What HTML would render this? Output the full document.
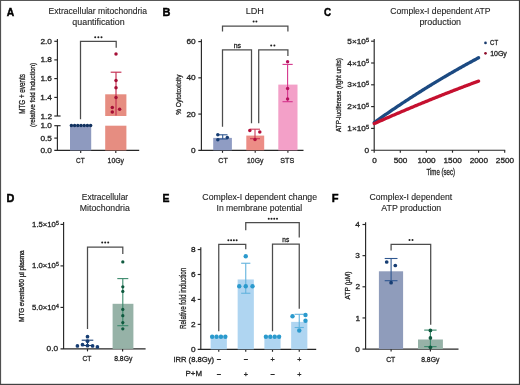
<!DOCTYPE html>
<html><head><meta charset="utf-8"><style>
html,body{margin:0;padding:0;background:#fff;overflow:hidden;}
svg{display:block;font-family:"Liberation Sans", sans-serif;will-change:transform;filter:blur(0.3px);}
text{stroke:#262626;stroke-width:0.3px;}
text.ti{stroke-width:0.12px;}
</style></head><body>
<svg width="520" height="385" viewBox="0 0 520 385">
<rect x="0" y="0" width="520" height="385" fill="#fff"/>
<text x="6.64" y="15.75" font-size="10.90" text-anchor="start" fill="#000" font-weight="bold" textLength="7.44" lengthAdjust="spacingAndGlyphs" style="stroke:#000;stroke-width:0.45px">A</text>
<text x="162.59" y="15.75" font-size="10.90" text-anchor="start" fill="#000" font-weight="bold" textLength="7.93" lengthAdjust="spacingAndGlyphs" style="stroke:#000;stroke-width:0.45px">B</text>
<text x="324.11" y="15.75" font-size="10.90" text-anchor="start" fill="#000" font-weight="bold" textLength="7.11" lengthAdjust="spacingAndGlyphs" style="stroke:#000;stroke-width:0.45px">C</text>
<text x="6.59" y="201.60" font-size="10.90" text-anchor="start" fill="#000" font-weight="bold" textLength="7.87" lengthAdjust="spacingAndGlyphs" style="stroke:#000;stroke-width:0.45px">D</text>
<text x="162.62" y="201.60" font-size="10.90" text-anchor="start" fill="#000" font-weight="bold" textLength="6.97" lengthAdjust="spacingAndGlyphs" style="stroke:#000;stroke-width:0.45px">E</text>
<text x="331.83" y="201.60" font-size="10.90" text-anchor="start" fill="#000" font-weight="bold" textLength="6.77" lengthAdjust="spacingAndGlyphs" style="stroke:#000;stroke-width:0.45px">F</text>
<text x="48.62" y="13.85" font-size="8.70" text-anchor="start" fill="#1e1e1e" font-weight="normal" textLength="98.39" lengthAdjust="spacingAndGlyphs" class="ti">Extracellular mitochondria</text>
<text x="72.35" y="24.90" font-size="8.70" text-anchor="start" fill="#1e1e1e" font-weight="normal" textLength="52.26" lengthAdjust="spacingAndGlyphs" class="ti">quantification</text>
<line x1="57.40" y1="39.00" x2="57.40" y2="116.00" stroke="#262626" stroke-width="1.15"/>
<line x1="54.30" y1="41.30" x2="57.40" y2="41.30" stroke="#262626" stroke-width="1.15"/>
<line x1="54.30" y1="59.90" x2="57.40" y2="59.90" stroke="#262626" stroke-width="1.15"/>
<line x1="54.30" y1="78.60" x2="57.40" y2="78.60" stroke="#262626" stroke-width="1.15"/>
<line x1="54.30" y1="97.40" x2="57.40" y2="97.40" stroke="#262626" stroke-width="1.15"/>
<line x1="54.30" y1="116.00" x2="60.60" y2="116.00" stroke="#262626" stroke-width="1.15"/>
<line x1="57.40" y1="125.70" x2="57.40" y2="150.40" stroke="#262626" stroke-width="1.15"/>
<line x1="54.30" y1="125.70" x2="60.60" y2="125.70" stroke="#262626" stroke-width="1.15"/>
<line x1="54.30" y1="138.10" x2="57.40" y2="138.10" stroke="#262626" stroke-width="1.15"/>
<line x1="54.30" y1="150.40" x2="139.20" y2="150.40" stroke="#262626" stroke-width="1.15"/>
<text x="40.41" y="43.85" font-size="7.40" text-anchor="start" fill="#1e1e1e" font-weight="normal" textLength="11.52" lengthAdjust="spacingAndGlyphs">2.0</text>
<text x="40.41" y="62.45" font-size="7.40" text-anchor="start" fill="#1e1e1e" font-weight="normal" textLength="11.52" lengthAdjust="spacingAndGlyphs">1.8</text>
<text x="40.45" y="81.15" font-size="7.40" text-anchor="start" fill="#1e1e1e" font-weight="normal" textLength="11.52" lengthAdjust="spacingAndGlyphs">1.6</text>
<text x="40.33" y="99.95" font-size="7.40" text-anchor="start" fill="#1e1e1e" font-weight="normal" textLength="11.52" lengthAdjust="spacingAndGlyphs">1.4</text>
<text x="40.49" y="118.59" font-size="7.40" text-anchor="start" fill="#1e1e1e" font-weight="normal" textLength="11.52" lengthAdjust="spacingAndGlyphs">1.2</text>
<text x="40.41" y="128.25" font-size="7.40" text-anchor="start" fill="#1e1e1e" font-weight="normal" textLength="11.52" lengthAdjust="spacingAndGlyphs">1.0</text>
<text x="40.41" y="140.65" font-size="7.40" text-anchor="start" fill="#1e1e1e" font-weight="normal" textLength="11.52" lengthAdjust="spacingAndGlyphs">0.5</text>
<text x="40.41" y="152.95" font-size="7.40" text-anchor="start" fill="#1e1e1e" font-weight="normal" textLength="11.52" lengthAdjust="spacingAndGlyphs">0.0</text>
<line x1="80.70" y1="150.40" x2="80.70" y2="152.90" stroke="#262626" stroke-width="1.15"/>
<line x1="115.80" y1="150.40" x2="115.80" y2="152.90" stroke="#262626" stroke-width="1.15"/>
<text x="76.08" y="162.60" font-size="7.90" text-anchor="start" fill="#1e1e1e" font-weight="normal" textLength="8.57" lengthAdjust="spacingAndGlyphs">CT</text>
<text x="107.59" y="162.60" font-size="7.90" text-anchor="start" fill="#1e1e1e" font-weight="normal" textLength="16.35" lengthAdjust="spacingAndGlyphs">10Gy</text>
<text x="24.91" y="113.80" font-size="8.59" text-anchor="start" fill="#1e1e1e" font-weight="normal" textLength="39.71" lengthAdjust="spacingAndGlyphs" transform="rotate(-90 24.91 113.80)">MTG + events</text>
<text x="35.42" y="126.88" font-size="8.02" text-anchor="start" fill="#1e1e1e" font-weight="normal" textLength="64.07" lengthAdjust="spacingAndGlyphs" transform="rotate(-90 35.42 126.88)">(relative fold induction)</text>
<rect x="70.00" y="125.70" width="21.20" height="24.70" fill="#8e9abf"/>
<rect x="105.20" y="125.70" width="21.20" height="24.70" fill="#e68d81"/>
<rect x="105.20" y="94.30" width="21.20" height="21.70" fill="#e68d81"/>
<circle cx="71.40" cy="125.60" r="1.75" fill="#12325f"/>
<circle cx="74.60" cy="125.60" r="1.75" fill="#12325f"/>
<circle cx="77.80" cy="125.60" r="1.75" fill="#12325f"/>
<circle cx="81.00" cy="125.60" r="1.75" fill="#12325f"/>
<circle cx="84.20" cy="125.60" r="1.75" fill="#12325f"/>
<circle cx="87.40" cy="125.60" r="1.75" fill="#12325f"/>
<circle cx="90.60" cy="125.60" r="1.75" fill="#12325f"/>
<line x1="116.00" y1="72.20" x2="116.00" y2="115.50" stroke="#c42d50" stroke-width="1.15"/>
<line x1="110.70" y1="72.20" x2="121.40" y2="72.20" stroke="#c42d50" stroke-width="1.15"/>
<circle cx="116.00" cy="54.10" r="1.75" fill="#a50f36"/>
<circle cx="116.00" cy="80.60" r="1.75" fill="#a50f36"/>
<circle cx="116.00" cy="87.80" r="1.75" fill="#a50f36"/>
<circle cx="116.00" cy="97.50" r="1.75" fill="#a50f36"/>
<circle cx="112.30" cy="107.60" r="1.75" fill="#a50f36"/>
<circle cx="119.60" cy="109.20" r="1.75" fill="#a50f36"/>
<circle cx="112.30" cy="112.10" r="1.75" fill="#a50f36"/>
<polyline points="80.50,119.20 80.50,41.40 116.20,41.40 116.20,47.70" fill="none" stroke="#4c4c4c" stroke-width="1.25" stroke-linejoin="miter" stroke-linecap="butt"/>
<circle cx="95.20" cy="37.25" r="1.0" fill="#1e1e1e"/>
<circle cx="98.35" cy="37.25" r="1.0" fill="#1e1e1e"/>
<circle cx="101.50" cy="37.25" r="1.0" fill="#1e1e1e"/>
<text x="245.77" y="13.85" font-size="8.70" text-anchor="start" fill="#1e1e1e" font-weight="normal" textLength="18.16" lengthAdjust="spacingAndGlyphs" class="ti">LDH</text>
<line x1="201.40" y1="39.30" x2="201.40" y2="150.30" stroke="#262626" stroke-width="1.15"/>
<line x1="198.30" y1="41.60" x2="201.40" y2="41.60" stroke="#262626" stroke-width="1.15"/>
<line x1="198.30" y1="77.83" x2="201.40" y2="77.83" stroke="#262626" stroke-width="1.15"/>
<line x1="198.30" y1="114.07" x2="201.40" y2="114.07" stroke="#262626" stroke-width="1.15"/>
<line x1="198.30" y1="150.30" x2="303.50" y2="150.30" stroke="#262626" stroke-width="1.15"/>
<text x="186.43" y="44.15" font-size="7.40" text-anchor="start" fill="#1e1e1e" font-weight="normal" textLength="9.22" lengthAdjust="spacingAndGlyphs">60</text>
<text x="186.43" y="80.39" font-size="7.40" text-anchor="start" fill="#1e1e1e" font-weight="normal" textLength="9.22" lengthAdjust="spacingAndGlyphs">40</text>
<text x="186.43" y="116.62" font-size="7.40" text-anchor="start" fill="#1e1e1e" font-weight="normal" textLength="9.22" lengthAdjust="spacingAndGlyphs">20</text>
<text x="191.03" y="152.85" font-size="7.40" text-anchor="start" fill="#1e1e1e" font-weight="normal" textLength="4.61" lengthAdjust="spacingAndGlyphs">0</text>
<line x1="222.50" y1="150.30" x2="222.50" y2="152.80" stroke="#262626" stroke-width="1.15"/>
<line x1="255.20" y1="150.30" x2="255.20" y2="152.80" stroke="#262626" stroke-width="1.15"/>
<line x1="287.90" y1="150.30" x2="287.90" y2="152.80" stroke="#262626" stroke-width="1.15"/>
<text x="218.35" y="162.80" font-size="7.90" text-anchor="start" fill="#1e1e1e" font-weight="normal" textLength="9.42" lengthAdjust="spacingAndGlyphs">CT</text>
<text x="247.09" y="162.80" font-size="7.90" text-anchor="start" fill="#1e1e1e" font-weight="normal" textLength="16.24" lengthAdjust="spacingAndGlyphs">10Gy</text>
<text x="280.28" y="162.80" font-size="7.90" text-anchor="start" fill="#1e1e1e" font-weight="normal" textLength="13.94" lengthAdjust="spacingAndGlyphs">STS</text>
<text x="180.58" y="114.72" font-size="7.70" text-anchor="start" fill="#1e1e1e" font-weight="normal" textLength="40.05" lengthAdjust="spacingAndGlyphs" transform="rotate(-90 180.58 114.72)">% Cytotoxicity</text>
<rect x="213.20" y="137.90" width="18.70" height="12.40" fill="#8f9cc3"/>
<rect x="246.30" y="135.60" width="17.90" height="14.70" fill="#ec8d86"/>
<rect x="278.30" y="84.60" width="19.20" height="65.70" fill="#f3a0c8"/>
<line x1="222.70" y1="134.80" x2="222.70" y2="139.00" stroke="#2f5790" stroke-width="1.1"/>
<line x1="217.90" y1="134.80" x2="227.50" y2="134.80" stroke="#2f5790" stroke-width="1.1"/>
<line x1="217.90" y1="139.00" x2="227.50" y2="139.00" stroke="#2f5790" stroke-width="1.1"/>
<circle cx="217.80" cy="134.80" r="1.75" fill="#163d73"/>
<circle cx="227.30" cy="137.50" r="1.75" fill="#163d73"/>
<circle cx="217.80" cy="139.80" r="1.75" fill="#163d73"/>
<line x1="255.00" y1="129.20" x2="255.00" y2="138.70" stroke="#cc3858" stroke-width="1.1"/>
<line x1="250.00" y1="129.20" x2="260.00" y2="129.20" stroke="#cc3858" stroke-width="1.1"/>
<line x1="250.00" y1="138.70" x2="260.00" y2="138.70" stroke="#cc3858" stroke-width="1.1"/>
<circle cx="249.80" cy="130.60" r="1.75" fill="#b3103c"/>
<circle cx="259.80" cy="132.10" r="1.75" fill="#b3103c"/>
<circle cx="255.00" cy="139.60" r="1.75" fill="#b3103c"/>
<line x1="287.60" y1="64.40" x2="287.60" y2="101.70" stroke="#d4358c" stroke-width="1.1"/>
<line x1="282.50" y1="64.40" x2="292.70" y2="64.40" stroke="#d4358c" stroke-width="1.1"/>
<line x1="282.50" y1="101.70" x2="292.70" y2="101.70" stroke="#d4358c" stroke-width="1.1"/>
<circle cx="287.60" cy="61.80" r="1.7" fill="#b8105e"/>
<circle cx="287.60" cy="88.50" r="1.7" fill="#b8105e"/>
<circle cx="287.60" cy="98.90" r="1.7" fill="#b8105e"/>
<polyline points="222.50,31.50 222.50,26.00 287.90,26.00 287.90,31.50" fill="none" stroke="#4c4c4c" stroke-width="1.25" stroke-linejoin="miter" stroke-linecap="butt"/>
<circle cx="253.60" cy="21.60" r="1.0" fill="#1e1e1e"/>
<circle cx="256.40" cy="21.60" r="1.0" fill="#1e1e1e"/>
<polyline points="222.50,126.70 222.50,49.80 251.50,49.80 251.50,123.20" fill="none" stroke="#4c4c4c" stroke-width="1.25" stroke-linejoin="miter" stroke-linecap="butt"/>
<text x="233.75" y="47.60" font-size="7.00" text-anchor="start" fill="#1e1e1e" font-weight="normal" textLength="7.30" lengthAdjust="spacingAndGlyphs">ns</text>
<polyline points="258.70,123.20 258.70,49.80 287.90,49.80 287.90,56.00" fill="none" stroke="#4c4c4c" stroke-width="1.25" stroke-linejoin="miter" stroke-linecap="butt"/>
<circle cx="271.20" cy="45.50" r="1.0" fill="#1e1e1e"/>
<circle cx="274.40" cy="45.50" r="1.0" fill="#1e1e1e"/>
<text x="390.27" y="14.30" font-size="8.70" text-anchor="start" fill="#1e1e1e" font-weight="normal" textLength="100.26" lengthAdjust="spacingAndGlyphs" class="ti">Complex-I dependent ATP</text>
<text x="419.42" y="24.90" font-size="8.70" text-anchor="start" fill="#1e1e1e" font-weight="normal" textLength="41.66" lengthAdjust="spacingAndGlyphs" class="ti">production</text>
<line x1="374.20" y1="38.90" x2="374.20" y2="150.20" stroke="#262626" stroke-width="1.15"/>
<line x1="371.10" y1="128.40" x2="374.20" y2="128.40" stroke="#262626" stroke-width="1.15"/>
<line x1="371.10" y1="106.60" x2="374.20" y2="106.60" stroke="#262626" stroke-width="1.15"/>
<line x1="371.10" y1="84.80" x2="374.20" y2="84.80" stroke="#262626" stroke-width="1.15"/>
<line x1="371.10" y1="63.00" x2="374.20" y2="63.00" stroke="#262626" stroke-width="1.15"/>
<line x1="371.10" y1="41.20" x2="374.20" y2="41.20" stroke="#262626" stroke-width="1.15"/>
<line x1="371.10" y1="150.20" x2="505.20" y2="150.20" stroke="#262626" stroke-width="1.15"/>
<text x="364.53" y="152.75" font-size="7.40" text-anchor="start" fill="#1e1e1e" font-weight="normal" textLength="4.61" lengthAdjust="spacingAndGlyphs">0</text>
<text x="347.30" y="130.95" font-size="7.40" text-anchor="start" fill="#1e1e1e" font-weight="normal" textLength="18.67" lengthAdjust="spacingAndGlyphs">1×10</text>
<text x="366.12" y="128.82" font-size="5.00" text-anchor="start" fill="#1e1e1e" font-weight="normal" textLength="3.11" lengthAdjust="spacingAndGlyphs">5</text>
<text x="347.30" y="109.15" font-size="7.40" text-anchor="start" fill="#1e1e1e" font-weight="normal" textLength="18.67" lengthAdjust="spacingAndGlyphs">2×10</text>
<text x="366.12" y="107.02" font-size="5.00" text-anchor="start" fill="#1e1e1e" font-weight="normal" textLength="3.11" lengthAdjust="spacingAndGlyphs">5</text>
<text x="347.30" y="87.35" font-size="7.40" text-anchor="start" fill="#1e1e1e" font-weight="normal" textLength="18.67" lengthAdjust="spacingAndGlyphs">3×10</text>
<text x="366.12" y="85.22" font-size="5.00" text-anchor="start" fill="#1e1e1e" font-weight="normal" textLength="3.11" lengthAdjust="spacingAndGlyphs">5</text>
<text x="347.30" y="65.55" font-size="7.40" text-anchor="start" fill="#1e1e1e" font-weight="normal" textLength="18.67" lengthAdjust="spacingAndGlyphs">4×10</text>
<text x="366.12" y="63.42" font-size="5.00" text-anchor="start" fill="#1e1e1e" font-weight="normal" textLength="3.11" lengthAdjust="spacingAndGlyphs">5</text>
<text x="347.30" y="43.75" font-size="7.40" text-anchor="start" fill="#1e1e1e" font-weight="normal" textLength="18.67" lengthAdjust="spacingAndGlyphs">5×10</text>
<text x="366.12" y="41.62" font-size="5.00" text-anchor="start" fill="#1e1e1e" font-weight="normal" textLength="3.11" lengthAdjust="spacingAndGlyphs">5</text>
<line x1="374.20" y1="150.20" x2="374.20" y2="152.70" stroke="#262626" stroke-width="1.15"/>
<text x="372.23" y="163.25" font-size="7.50" text-anchor="start" fill="#1e1e1e" font-weight="normal" textLength="4.55" lengthAdjust="spacingAndGlyphs">0</text>
<line x1="400.30" y1="150.20" x2="400.30" y2="152.70" stroke="#262626" stroke-width="1.15"/>
<text x="393.79" y="163.25" font-size="7.50" text-anchor="start" fill="#1e1e1e" font-weight="normal" textLength="13.64" lengthAdjust="spacingAndGlyphs">500</text>
<line x1="426.40" y1="150.20" x2="426.40" y2="152.70" stroke="#262626" stroke-width="1.15"/>
<text x="417.46" y="163.25" font-size="7.50" text-anchor="start" fill="#1e1e1e" font-weight="normal" textLength="18.19" lengthAdjust="spacingAndGlyphs">1000</text>
<line x1="452.50" y1="150.20" x2="452.50" y2="152.70" stroke="#262626" stroke-width="1.15"/>
<text x="443.56" y="163.25" font-size="7.50" text-anchor="start" fill="#1e1e1e" font-weight="normal" textLength="18.19" lengthAdjust="spacingAndGlyphs">1500</text>
<line x1="478.60" y1="150.20" x2="478.60" y2="152.70" stroke="#262626" stroke-width="1.15"/>
<text x="469.76" y="163.25" font-size="7.50" text-anchor="start" fill="#1e1e1e" font-weight="normal" textLength="18.19" lengthAdjust="spacingAndGlyphs">2000</text>
<line x1="504.70" y1="150.20" x2="504.70" y2="152.70" stroke="#262626" stroke-width="1.15"/>
<text x="495.86" y="163.25" font-size="7.50" text-anchor="start" fill="#1e1e1e" font-weight="normal" textLength="18.19" lengthAdjust="spacingAndGlyphs">2500</text>
<text x="426.48" y="175.20" font-size="8.40" text-anchor="start" fill="#1e1e1e" font-weight="normal" textLength="28.52" lengthAdjust="spacingAndGlyphs">Time (sec)</text>
<text x="341.01" y="131.93" font-size="7.40" text-anchor="start" fill="#1e1e1e" font-weight="normal" textLength="73.93" lengthAdjust="spacingAndGlyphs" transform="rotate(-90 341.01 131.93)">ATP-luciferase (light units)</text>
<polyline points="374.20,122.51 375.24,121.77 376.29,121.04 377.33,120.30 378.38,119.57 379.42,118.83 380.46,118.10 381.51,117.37 382.55,116.65 383.60,115.92 384.64,115.20 385.68,114.48 386.73,113.76 387.77,113.04 388.82,112.33 389.86,111.61 390.90,110.90 391.95,110.19 392.99,109.48 394.04,108.78 395.08,108.07 396.12,107.37 397.17,106.67 398.21,105.97 399.26,105.27 400.30,104.58 401.34,103.88 402.39,103.19 403.43,102.50 404.48,101.82 405.52,101.13 406.56,100.45 407.61,99.76 408.65,99.08 409.70,98.41 410.74,97.73 411.78,97.06 412.83,96.38 413.87,95.71 414.92,95.04 415.96,94.38 417.00,93.71 418.05,93.05 419.09,92.39 420.14,91.73 421.18,91.07 422.22,90.41 423.27,89.76 424.31,89.11 425.36,88.46 426.40,87.81 427.44,87.16 428.49,86.52 429.53,85.87 430.58,85.23 431.62,84.59 432.66,83.96 433.71,83.32 434.75,82.69 435.80,82.06 436.84,81.43 437.88,80.80 438.93,80.17 439.97,79.55 441.02,78.93 442.06,78.31 443.10,77.69 444.15,77.07 445.19,76.46 446.24,75.84 447.28,75.23 448.32,74.62 449.37,74.02 450.41,73.41 451.46,72.81 452.50,72.21 453.54,71.61 454.59,71.01 455.63,70.41 456.68,69.82 457.72,69.22 458.76,68.63 459.81,68.05 460.85,67.46 461.90,66.87 462.94,66.29 463.98,65.71 465.03,65.13 466.07,64.55 467.12,63.98 468.16,63.40 469.20,62.83 470.25,62.26 471.29,61.69 472.34,61.13 473.38,60.56 474.42,60.00 475.47,59.44 476.51,58.88 477.56,58.32 478.60,57.77" fill="none" stroke="#1c4a82" stroke-width="3.3" stroke-linecap="round" stroke-linejoin="round"/>
<polyline points="374.20,123.60 375.24,123.14 376.29,122.68 377.33,122.21 378.38,121.75 379.42,121.29 380.46,120.83 381.51,120.37 382.55,119.91 383.60,119.45 384.64,118.99 385.68,118.54 386.73,118.08 387.77,117.62 388.82,117.17 389.86,116.72 390.90,116.26 391.95,115.81 392.99,115.36 394.04,114.91 395.08,114.46 396.12,114.01 397.17,113.56 398.21,113.12 399.26,112.67 400.30,112.22 401.34,111.78 402.39,111.34 403.43,110.89 404.48,110.45 405.52,110.01 406.56,109.57 407.61,109.13 408.65,108.69 409.70,108.25 410.74,107.81 411.78,107.38 412.83,106.94 413.87,106.51 414.92,106.07 415.96,105.64 417.00,105.20 418.05,104.77 419.09,104.34 420.14,103.91 421.18,103.48 422.22,103.05 423.27,102.63 424.31,102.20 425.36,101.77 426.40,101.35 427.44,100.92 428.49,100.50 429.53,100.07 430.58,99.65 431.62,99.23 432.66,98.81 433.71,98.39 434.75,97.97 435.80,97.55 436.84,97.14 437.88,96.72 438.93,96.30 439.97,95.89 441.02,95.47 442.06,95.06 443.10,94.65 444.15,94.24 445.19,93.82 446.24,93.41 447.28,93.00 448.32,92.60 449.37,92.19 450.41,91.78 451.46,91.37 452.50,90.97 453.54,90.56 454.59,90.16 455.63,89.76 456.68,89.36 457.72,88.95 458.76,88.55 459.81,88.15 460.85,87.75 461.90,87.36 462.94,86.96 463.98,86.56 465.03,86.17 466.07,85.77 467.12,85.38 468.16,84.98 469.20,84.59 470.25,84.20 471.29,83.81 472.34,83.42 473.38,83.03 474.42,82.64 475.47,82.25 476.51,81.87 477.56,81.48 478.60,81.09" fill="none" stroke="#c5102f" stroke-width="3.3" stroke-linecap="round" stroke-linejoin="round"/>
<circle cx="485.50" cy="42.90" r="1.35" fill="#183a6c"/>
<text x="490.10" y="44.90" font-size="6.60" text-anchor="start" fill="#1e1e1e" font-weight="normal" textLength="8.04" lengthAdjust="spacingAndGlyphs">CT</text>
<circle cx="485.50" cy="53.30" r="1.35" fill="#8e0c2a"/>
<text x="490.18" y="55.60" font-size="6.60" text-anchor="start" fill="#1e1e1e" font-weight="normal" textLength="16.66" lengthAdjust="spacingAndGlyphs">10Gy</text>
<text x="81.83" y="200.10" font-size="8.70" text-anchor="start" fill="#1e1e1e" font-weight="normal" textLength="46.32" lengthAdjust="spacingAndGlyphs" class="ti">Extracellular</text>
<text x="79.80" y="210.90" font-size="8.70" text-anchor="start" fill="#1e1e1e" font-weight="normal" textLength="50.00" lengthAdjust="spacingAndGlyphs" class="ti">Mitochondria</text>
<line x1="63.60" y1="222.10" x2="63.60" y2="348.90" stroke="#262626" stroke-width="1.15"/>
<line x1="60.50" y1="224.40" x2="63.60" y2="224.40" stroke="#262626" stroke-width="1.15"/>
<line x1="60.50" y1="265.90" x2="63.60" y2="265.90" stroke="#262626" stroke-width="1.15"/>
<line x1="60.50" y1="307.40" x2="63.60" y2="307.40" stroke="#262626" stroke-width="1.15"/>
<line x1="60.50" y1="348.90" x2="145.60" y2="348.90" stroke="#262626" stroke-width="1.15"/>
<text x="46.61" y="351.45" font-size="7.40" text-anchor="start" fill="#1e1e1e" font-weight="normal" textLength="11.52" lengthAdjust="spacingAndGlyphs">0.0</text>
<text x="32.07" y="309.95" font-size="7.40" text-anchor="start" fill="#1e1e1e" font-weight="normal" textLength="23.75" lengthAdjust="spacingAndGlyphs">5.0×10</text>
<text x="55.97" y="307.82" font-size="5.00" text-anchor="start" fill="#1e1e1e" font-weight="normal" textLength="2.89" lengthAdjust="spacingAndGlyphs">4</text>
<text x="32.12" y="268.45" font-size="7.40" text-anchor="start" fill="#1e1e1e" font-weight="normal" textLength="23.75" lengthAdjust="spacingAndGlyphs">1.0×10</text>
<text x="56.02" y="266.32" font-size="5.00" text-anchor="start" fill="#1e1e1e" font-weight="normal" textLength="2.89" lengthAdjust="spacingAndGlyphs">5</text>
<text x="32.12" y="226.95" font-size="7.40" text-anchor="start" fill="#1e1e1e" font-weight="normal" textLength="23.75" lengthAdjust="spacingAndGlyphs">1.5×10</text>
<text x="56.02" y="224.82" font-size="5.00" text-anchor="start" fill="#1e1e1e" font-weight="normal" textLength="2.89" lengthAdjust="spacingAndGlyphs">5</text>
<line x1="87.50" y1="348.90" x2="87.50" y2="351.40" stroke="#262626" stroke-width="1.15"/>
<line x1="122.60" y1="348.90" x2="122.60" y2="351.40" stroke="#262626" stroke-width="1.15"/>
<text x="82.57" y="361.40" font-size="7.90" text-anchor="start" fill="#1e1e1e" font-weight="normal" textLength="8.89" lengthAdjust="spacingAndGlyphs">CT</text>
<text x="114.19" y="361.40" font-size="7.90" text-anchor="start" fill="#1e1e1e" font-weight="normal" textLength="18.13" lengthAdjust="spacingAndGlyphs">8.8Gy</text>
<text x="23.97" y="321.80" font-size="6.31" text-anchor="start" fill="#1e1e1e" font-weight="normal" textLength="71.39" lengthAdjust="spacingAndGlyphs" transform="rotate(-90 23.97 321.80)">MTG events/60 µl plasma</text>
<rect x="112.60" y="303.80" width="20.80" height="45.10" fill="#96b2a7"/>
<line x1="122.80" y1="278.60" x2="122.80" y2="325.70" stroke="#3b8a6c" stroke-width="1.1"/>
<line x1="117.30" y1="278.60" x2="128.30" y2="278.60" stroke="#3b8a6c" stroke-width="1.1"/>
<line x1="117.30" y1="325.70" x2="128.30" y2="325.70" stroke="#3b8a6c" stroke-width="1.1"/>
<circle cx="122.80" cy="261.90" r="1.65" fill="#0f5a3f"/>
<circle cx="122.80" cy="286.80" r="1.65" fill="#0f5a3f"/>
<circle cx="122.80" cy="291.40" r="1.65" fill="#0f5a3f"/>
<circle cx="122.80" cy="309.40" r="1.65" fill="#0f5a3f"/>
<circle cx="122.80" cy="315.70" r="1.65" fill="#0f5a3f"/>
<circle cx="122.80" cy="322.60" r="1.65" fill="#0f5a3f"/>
<circle cx="122.80" cy="328.80" r="1.65" fill="#0f5a3f"/>
<line x1="87.50" y1="340.20" x2="87.50" y2="345.50" stroke="#163d73" stroke-width="1.1"/>
<line x1="81.70" y1="340.20" x2="93.30" y2="340.20" stroke="#163d73" stroke-width="1.1"/>
<line x1="81.70" y1="345.50" x2="93.30" y2="345.50" stroke="#163d73" stroke-width="1.1"/>
<circle cx="87.50" cy="336.70" r="1.85" fill="#163d73"/>
<circle cx="87.50" cy="341.20" r="1.85" fill="#163d73"/>
<circle cx="77.40" cy="345.90" r="1.85" fill="#163d73"/>
<circle cx="82.50" cy="344.70" r="1.85" fill="#163d73"/>
<circle cx="87.50" cy="345.70" r="1.85" fill="#163d73"/>
<circle cx="92.60" cy="345.90" r="1.85" fill="#163d73"/>
<circle cx="97.40" cy="346.90" r="1.85" fill="#163d73"/>
<polyline points="87.50,328.90 87.50,247.00 122.80,247.00 122.80,254.00" fill="none" stroke="#4c4c4c" stroke-width="1.25" stroke-linejoin="miter" stroke-linecap="butt"/>
<circle cx="102.20" cy="242.50" r="1.0" fill="#1e1e1e"/>
<circle cx="105.20" cy="242.50" r="1.0" fill="#1e1e1e"/>
<circle cx="108.20" cy="242.50" r="1.0" fill="#1e1e1e"/>
<text x="202.36" y="200.10" font-size="8.70" text-anchor="start" fill="#1e1e1e" font-weight="normal" textLength="114.73" lengthAdjust="spacingAndGlyphs" class="ti">Complex-I dependent change</text>
<text x="216.52" y="211.10" font-size="8.70" text-anchor="start" fill="#1e1e1e" font-weight="normal" textLength="85.74" lengthAdjust="spacingAndGlyphs" class="ti">In membrane potential</text>
<line x1="200.80" y1="247.24" x2="200.80" y2="349.30" stroke="#262626" stroke-width="1.15"/>
<line x1="197.70" y1="249.54" x2="200.80" y2="249.54" stroke="#262626" stroke-width="1.15"/>
<line x1="197.70" y1="274.48" x2="200.80" y2="274.48" stroke="#262626" stroke-width="1.15"/>
<line x1="197.70" y1="299.42" x2="200.80" y2="299.42" stroke="#262626" stroke-width="1.15"/>
<line x1="197.70" y1="324.36" x2="200.80" y2="324.36" stroke="#262626" stroke-width="1.15"/>
<line x1="197.70" y1="349.30" x2="316.20" y2="349.30" stroke="#262626" stroke-width="1.15"/>
<text x="191.03" y="252.09" font-size="7.40" text-anchor="start" fill="#1e1e1e" font-weight="normal" textLength="4.61" lengthAdjust="spacingAndGlyphs">8</text>
<text x="191.07" y="277.03" font-size="7.40" text-anchor="start" fill="#1e1e1e" font-weight="normal" textLength="4.61" lengthAdjust="spacingAndGlyphs">6</text>
<text x="190.95" y="301.97" font-size="7.40" text-anchor="start" fill="#1e1e1e" font-weight="normal" textLength="4.61" lengthAdjust="spacingAndGlyphs">4</text>
<text x="191.11" y="326.95" font-size="7.40" text-anchor="start" fill="#1e1e1e" font-weight="normal" textLength="4.61" lengthAdjust="spacingAndGlyphs">2</text>
<text x="191.03" y="351.85" font-size="7.40" text-anchor="start" fill="#1e1e1e" font-weight="normal" textLength="4.61" lengthAdjust="spacingAndGlyphs">0</text>
<line x1="218.75" y1="349.30" x2="218.75" y2="351.80" stroke="#262626" stroke-width="1.15"/>
<line x1="245.75" y1="349.30" x2="245.75" y2="351.80" stroke="#262626" stroke-width="1.15"/>
<line x1="272.50" y1="349.30" x2="272.50" y2="351.80" stroke="#262626" stroke-width="1.15"/>
<line x1="299.25" y1="349.30" x2="299.25" y2="351.80" stroke="#262626" stroke-width="1.15"/>
<text x="185.71" y="329.00" font-size="8.84" text-anchor="start" fill="#1e1e1e" font-weight="normal" textLength="61.30" lengthAdjust="spacingAndGlyphs" transform="rotate(-90 185.71 329.00)">Relative fold induction</text>
<rect x="210.65" y="336.83" width="16.20" height="12.47" fill="#afd5f1"/>
<rect x="237.65" y="279.47" width="16.20" height="69.83" fill="#afd5f1"/>
<rect x="264.40" y="336.83" width="16.20" height="12.47" fill="#afd5f1"/>
<rect x="291.15" y="321.87" width="16.20" height="27.43" fill="#afd5f1"/>
<circle cx="212.15" cy="336.80" r="2.2" fill="#2b9acd"/>
<circle cx="216.55" cy="336.80" r="2.2" fill="#2b9acd"/>
<circle cx="220.95" cy="336.80" r="2.2" fill="#2b9acd"/>
<circle cx="225.35" cy="336.80" r="2.2" fill="#2b9acd"/>
<circle cx="265.90" cy="336.80" r="2.2" fill="#2b9acd"/>
<circle cx="270.30" cy="336.80" r="2.2" fill="#2b9acd"/>
<circle cx="274.70" cy="336.80" r="2.2" fill="#2b9acd"/>
<circle cx="279.10" cy="336.80" r="2.2" fill="#2b9acd"/>
<line x1="245.75" y1="263.25" x2="245.75" y2="293.25" stroke="#62b3de" stroke-width="1.1"/>
<line x1="241.15" y1="263.25" x2="250.35" y2="263.25" stroke="#62b3de" stroke-width="1.1"/>
<line x1="241.15" y1="293.25" x2="250.35" y2="293.25" stroke="#62b3de" stroke-width="1.1"/>
<circle cx="245.75" cy="256.25" r="2.2" fill="#2b9acd"/>
<circle cx="239.25" cy="286.25" r="2.2" fill="#2b9acd"/>
<circle cx="245.75" cy="286.25" r="2.2" fill="#2b9acd"/>
<circle cx="252.50" cy="286.25" r="2.2" fill="#2b9acd"/>
<line x1="299.25" y1="314.30" x2="299.25" y2="327.50" stroke="#62b3de" stroke-width="1.1"/>
<line x1="294.65" y1="314.30" x2="303.85" y2="314.30" stroke="#62b3de" stroke-width="1.1"/>
<line x1="294.65" y1="327.50" x2="303.85" y2="327.50" stroke="#62b3de" stroke-width="1.1"/>
<circle cx="292.50" cy="316.25" r="2.2" fill="#2b9acd"/>
<circle cx="305.50" cy="315.00" r="2.2" fill="#2b9acd"/>
<circle cx="305.50" cy="320.75" r="2.2" fill="#2b9acd"/>
<circle cx="299.25" cy="330.50" r="2.2" fill="#2b9acd"/>
<polyline points="245.75,230.20 245.75,222.60 299.25,222.60 299.25,237.60" fill="none" stroke="#4c4c4c" stroke-width="1.25" stroke-linejoin="miter" stroke-linecap="butt"/>
<circle cx="268.73" cy="218.70" r="1.0" fill="#1e1e1e"/>
<circle cx="271.48" cy="218.70" r="1.0" fill="#1e1e1e"/>
<circle cx="274.23" cy="218.70" r="1.0" fill="#1e1e1e"/>
<circle cx="276.98" cy="218.70" r="1.0" fill="#1e1e1e"/>
<polyline points="218.75,331.25 218.75,244.40 245.75,244.40 245.75,249.30" fill="none" stroke="#4c4c4c" stroke-width="1.25" stroke-linejoin="miter" stroke-linecap="butt"/>
<circle cx="228.38" cy="240.30" r="1.0" fill="#1e1e1e"/>
<circle cx="231.12" cy="240.30" r="1.0" fill="#1e1e1e"/>
<circle cx="233.88" cy="240.30" r="1.0" fill="#1e1e1e"/>
<circle cx="236.62" cy="240.30" r="1.0" fill="#1e1e1e"/>
<polyline points="272.50,331.25 272.50,244.20 299.25,244.20 299.25,308.75" fill="none" stroke="#4c4c4c" stroke-width="1.25" stroke-linejoin="miter" stroke-linecap="butt"/>
<text x="282.27" y="242.00" font-size="7.00" text-anchor="start" fill="#1e1e1e" font-weight="normal" textLength="6.97" lengthAdjust="spacingAndGlyphs">ns</text>
<text x="173.42" y="361.90" font-size="7.60" text-anchor="start" fill="#1e1e1e" font-weight="normal" textLength="40.57" lengthAdjust="spacingAndGlyphs">IRR (8.8Gy)</text>
<text x="185.57" y="376.30" font-size="7.60" text-anchor="start" fill="#1e1e1e" font-weight="normal" textLength="16.50" lengthAdjust="spacingAndGlyphs">P+M</text>
<text x="218.75" y="361.32" font-size="7.20" text-anchor="middle" fill="#1e1e1e" font-weight="normal" textLength="3.70" lengthAdjust="spacingAndGlyphs">–</text>
<text x="245.75" y="361.32" font-size="7.20" text-anchor="middle" fill="#1e1e1e" font-weight="normal" textLength="3.70" lengthAdjust="spacingAndGlyphs">–</text>
<text x="272.50" y="361.91" font-size="7.20" text-anchor="middle" fill="#1e1e1e" font-weight="normal">+</text>
<text x="299.25" y="361.91" font-size="7.20" text-anchor="middle" fill="#1e1e1e" font-weight="normal">+</text>
<text x="218.75" y="376.42" font-size="7.20" text-anchor="middle" fill="#1e1e1e" font-weight="normal" textLength="3.70" lengthAdjust="spacingAndGlyphs">–</text>
<text x="245.75" y="377.01" font-size="7.20" text-anchor="middle" fill="#1e1e1e" font-weight="normal">+</text>
<text x="272.50" y="376.42" font-size="7.20" text-anchor="middle" fill="#1e1e1e" font-weight="normal" textLength="3.70" lengthAdjust="spacingAndGlyphs">–</text>
<text x="299.25" y="377.01" font-size="7.20" text-anchor="middle" fill="#1e1e1e" font-weight="normal">+</text>
<text x="369.47" y="199.90" font-size="8.70" text-anchor="start" fill="#1e1e1e" font-weight="normal" textLength="82.69" lengthAdjust="spacingAndGlyphs" class="ti">Complex-I dependent</text>
<text x="381.36" y="210.70" font-size="8.70" text-anchor="start" fill="#1e1e1e" font-weight="normal" textLength="59.82" lengthAdjust="spacingAndGlyphs" class="ti">ATP production</text>
<line x1="365.60" y1="222.20" x2="365.60" y2="349.10" stroke="#262626" stroke-width="1.15"/>
<line x1="362.50" y1="224.50" x2="365.60" y2="224.50" stroke="#262626" stroke-width="1.15"/>
<line x1="362.50" y1="255.65" x2="365.60" y2="255.65" stroke="#262626" stroke-width="1.15"/>
<line x1="362.50" y1="286.80" x2="365.60" y2="286.80" stroke="#262626" stroke-width="1.15"/>
<line x1="362.50" y1="317.95" x2="365.60" y2="317.95" stroke="#262626" stroke-width="1.15"/>
<line x1="362.50" y1="349.10" x2="458.50" y2="349.10" stroke="#262626" stroke-width="1.15"/>
<text x="355.33" y="351.65" font-size="7.40" text-anchor="start" fill="#1e1e1e" font-weight="normal" textLength="4.61" lengthAdjust="spacingAndGlyphs">0</text>
<text x="355.41" y="320.50" font-size="7.40" text-anchor="start" fill="#1e1e1e" font-weight="normal" textLength="4.61" lengthAdjust="spacingAndGlyphs">1</text>
<text x="355.41" y="289.39" font-size="7.40" text-anchor="start" fill="#1e1e1e" font-weight="normal" textLength="4.61" lengthAdjust="spacingAndGlyphs">2</text>
<text x="355.37" y="258.20" font-size="7.40" text-anchor="start" fill="#1e1e1e" font-weight="normal" textLength="4.61" lengthAdjust="spacingAndGlyphs">3</text>
<text x="355.25" y="227.05" font-size="7.40" text-anchor="start" fill="#1e1e1e" font-weight="normal" textLength="4.61" lengthAdjust="spacingAndGlyphs">4</text>
<line x1="391.10" y1="349.10" x2="391.10" y2="351.60" stroke="#262626" stroke-width="1.15"/>
<line x1="430.40" y1="349.10" x2="430.40" y2="351.60" stroke="#262626" stroke-width="1.15"/>
<text x="386.16" y="362.40" font-size="7.90" text-anchor="start" fill="#1e1e1e" font-weight="normal" textLength="9.10" lengthAdjust="spacingAndGlyphs">CT</text>
<text x="421.19" y="362.40" font-size="7.90" text-anchor="start" fill="#1e1e1e" font-weight="normal" textLength="18.13" lengthAdjust="spacingAndGlyphs">8.8Gy</text>
<text x="349.87" y="299.43" font-size="7.20" text-anchor="start" fill="#1e1e1e" font-weight="normal" textLength="27.84" lengthAdjust="spacingAndGlyphs" transform="rotate(-90 349.87 299.43)">ATP (µM)</text>
<rect x="378.90" y="271.30" width="24.20" height="77.80" fill="#8f9cbb"/>
<rect x="418.00" y="339.50" width="24.90" height="9.60" fill="#96b2a7"/>
<line x1="391.10" y1="258.50" x2="391.10" y2="280.70" stroke="#2f5790" stroke-width="1.1"/>
<line x1="384.70" y1="258.50" x2="397.50" y2="258.50" stroke="#2f5790" stroke-width="1.1"/>
<line x1="384.70" y1="280.70" x2="397.50" y2="280.70" stroke="#2f5790" stroke-width="1.1"/>
<circle cx="386.70" cy="262.00" r="1.85" fill="#163d73"/>
<circle cx="395.30" cy="265.50" r="1.85" fill="#163d73"/>
<circle cx="391.10" cy="282.70" r="1.85" fill="#163d73"/>
<line x1="430.40" y1="330.10" x2="430.40" y2="346.60" stroke="#3b8a6c" stroke-width="1.1"/>
<line x1="424.20" y1="330.10" x2="436.60" y2="330.10" stroke="#3b8a6c" stroke-width="1.1"/>
<line x1="424.20" y1="346.60" x2="436.60" y2="346.60" stroke="#3b8a6c" stroke-width="1.1"/>
<circle cx="430.40" cy="330.40" r="1.85" fill="#0f5a3f"/>
<circle cx="430.40" cy="337.90" r="1.85" fill="#0f5a3f"/>
<circle cx="430.40" cy="347.30" r="1.85" fill="#0f5a3f"/>
<polyline points="391.10,250.60 391.10,244.30 430.70,244.30 430.70,324.80" fill="none" stroke="#4c4c4c" stroke-width="1.25" stroke-linejoin="miter" stroke-linecap="butt"/>
<circle cx="409.50" cy="240.00" r="1.0" fill="#1e1e1e"/>
<circle cx="412.50" cy="240.00" r="1.0" fill="#1e1e1e"/>
<rect x="0" y="0" width="520" height="1" fill="#585858"/>
<rect x="0" y="0" width="1.1" height="385" fill="#505050"/>
<rect x="518.9" y="0" width="1.1" height="385" fill="#3a3a3a"/>
<rect x="0" y="383.8" width="520" height="1.2" fill="#424242"/>
</svg>
</body></html>
